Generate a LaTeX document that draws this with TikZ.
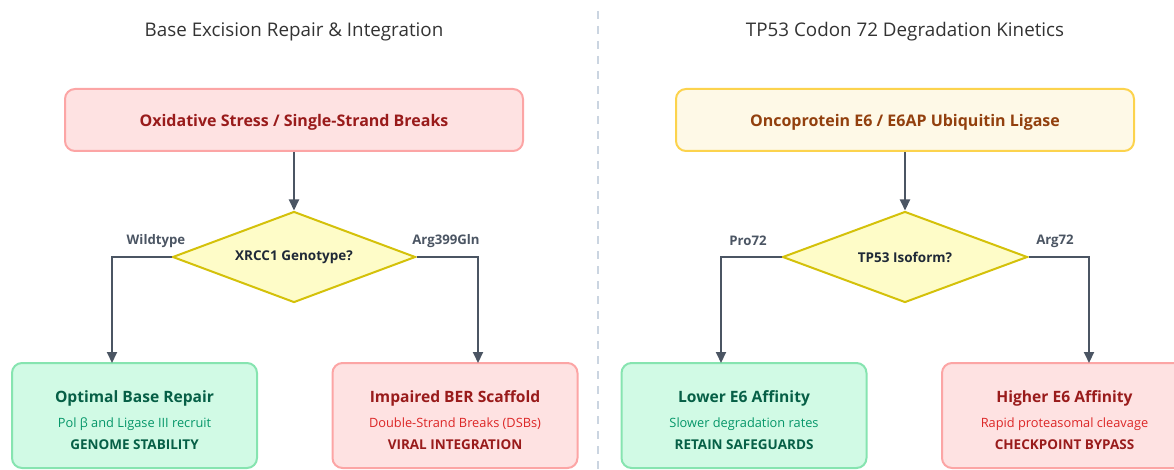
\documentclass[tikz,border=0pt]{standalone}
\usepackage{fontspec}
\setmainfont{Open Sans}
\usetikzlibrary{arrows.meta,shapes.geometric}

\definecolor{redfill}{HTML}{FEE2E2}
\definecolor{redline}{HTML}{FCA5A5}
\definecolor{redtext}{HTML}{991B1B}
\definecolor{redsub}{HTML}{DC2626}
\definecolor{yelfill}{HTML}{FEF9E7}
\definecolor{yelline}{HTML}{FCD34D}
\definecolor{yeltext}{HTML}{92400E}
\definecolor{diafill}{HTML}{FEFCC8}
\definecolor{dialine}{HTML}{D4C10A}
\definecolor{darktext}{HTML}{1F2937}
\definecolor{grnfill}{HTML}{D1FAE5}
\definecolor{grnline}{HTML}{86E4B0}
\definecolor{grntext}{HTML}{065F46}
\definecolor{grnsub}{HTML}{059669}
\definecolor{conncol}{HTML}{4B5563}
\definecolor{titlecol}{HTML}{333333}
\definecolor{divcol}{HTML}{CBD5E1}

\tikzset{
  paneltitle/.style={font=\fontsize{18.8}{22}\selectfont, text=titlecol},
  topbox/.style={rounded corners=10pt, line width=2pt, minimum width=458pt,
    minimum height=62pt, text depth=0pt, font=\fontsize{16}{19}\selectfont\bfseries},
  redbox/.style={draw=redline, fill=redfill},
  yelbox/.style={draw=yelline, fill=yelfill},
  grnbox/.style={draw=grnline, fill=grnfill},
  outbox/.style={rounded corners=10pt, line width=2pt, minimum width=245pt,
    minimum height=105pt},
  decision/.style={diamond, aspect=2.67, draw=dialine, fill=diafill, line width=2pt,
    minimum width=243pt, minimum height=91pt, inner sep=0pt,
    text=darktext, font=\fontsize{13.5}{16}\selectfont\bfseries},
  branchlabel/.style={text=conncol, font=\fontsize{13.2}{16}\selectfont\bfseries},
  headline/.style={font=\fontsize{15.6}{18}\selectfont\bfseries},
  subline/.style={font=\fontsize{12.8}{15}\selectfont},
  capsline/.style={font=\fontsize{13.5}{16}\selectfont\bfseries},
  conn/.style={draw=conncol, line width=2pt,
    -{Triangle[width=10pt,length=11pt]}},
}

\begin{document}
\begin{tikzpicture}[x=1pt,y=-1pt]
\useasboundingbox (0,0) rectangle (1174,470);

% panel divider
\draw[divcol, line width=2pt, dash pattern=on 8pt off 7pt] (598,11) -- (598,470);

% ---------- left panel: XRCC1 ----------
\node[paneltitle] (lt) at (294,31.5) {Base Excision Repair \& Integration};
\node[topbox, redbox, text=redtext] (ltop) at (294,120)
  {Oxidative Stress / Single-Strand Breaks};
\node[decision] (ldia) at (294,257) {XRCC1 Genotype?};
\node[outbox, grnbox] (lgood) at (134.5,415.5) {};
\node[outbox, redbox] (lbad) at (455,415.5) {};

\node[headline, text=grntext] (lgood1) at (134.5,398.5) {Optimal Base Repair};
\node[subline, text=grnsub] (lgood2) at (134.5,424) {Pol β and Ligase III recruit};
\node[capsline, text=grntext] (lgood3) at (134.5,445) {GENOME STABILITY};

\node[headline, text=redtext] (lbad1) at (455,398.5) {Impaired BER Scaffold};
\node[subline, text=redsub] (lbad2) at (455,424) {Double-Strand Breaks (DSBs)};
\node[capsline, text=redtext] (lbad3) at (455,445) {VIRAL INTEGRATION};

\node[branchlabel] (lwt) at (156,241) {Wildtype};
\node[branchlabel] (lmut) at (446,241) {Arg399Gln};

\coordinate (lgoodin) at (112,363);
\coordinate (lbadin) at (478,363);
\draw[conn] (ltop.south) -- (ldia.north);
\draw[conn] (ldia.west) -| (lgoodin);
\draw[conn] (ldia.east) -| (lbadin);

% ---------- right panel: TP53 ----------
\node[paneltitle] (rt) at (905,31.5) {TP53 Codon 72 Degradation Kinetics};
\node[topbox, yelbox, text=yeltext] (rtop) at (905,120)
  {Oncoprotein E6 / E6AP Ubiquitin Ligase};
\node[decision, minimum width=245pt] (rdia) at (905,257) {TP53 Isoform?};
\node[outbox, grnbox] (rgood) at (744,415.5) {};
\node[outbox, redbox] (rbad) at (1064.5,415.5) {};

\node[headline, text=grntext] (rgood1) at (744,398.5) {Lower E6 Affinity};
\node[subline, text=grnsub] (rgood2) at (744,424) {Slower degradation rates};
\node[capsline, text=grntext] (rgood3) at (744,445) {RETAIN SAFEGUARDS};

\node[headline, text=redtext] (rbad1) at (1064.5,398.5) {Higher E6 Affinity};
\node[subline, text=redsub] (rbad2) at (1064.5,424) {Rapid proteasomal cleavage};
\node[capsline, text=redtext] (rbad3) at (1064.5,445) {CHECKPOINT BYPASS};

\node[branchlabel] (rpro) at (748,241) {Pro72};
\node[branchlabel] (rarg) at (1055,241) {Arg72};

\coordinate (rgoodin) at (721,363);
\coordinate (rbadin) at (1089,363);
\draw[conn] (rtop.south) -- (rdia.north);
\draw[conn] (rdia.west) -| (rgoodin);
\draw[conn] (rdia.east) -| (rbadin);
\end{tikzpicture}
\end{document}
